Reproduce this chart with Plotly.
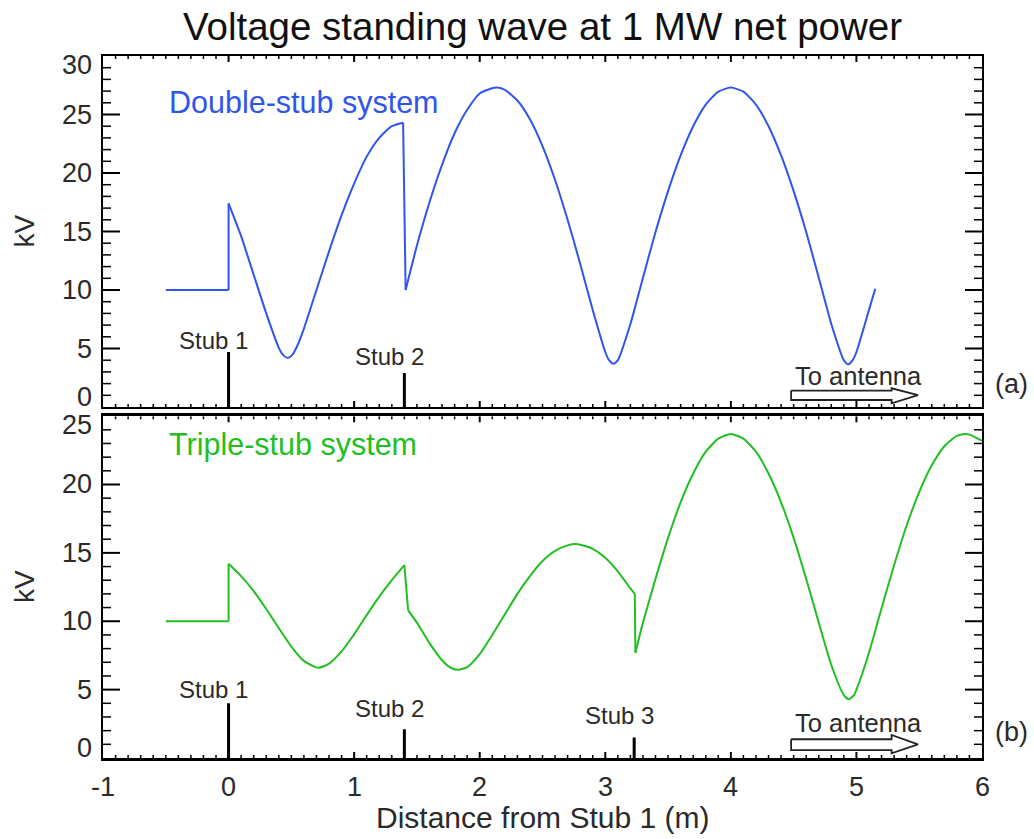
import plotly.graph_objects as go

FONT = "Liberation Sans, Arial, Helvetica, sans-serif"
BLUE = "#2f55ee"
GREEN = "#22bf22"
INK = "#2a2a2a"

# ---------------- Data: panel (a) double-stub system ----------------
a_seg1_x = [-0.5, 0.0]
a_seg1_y = [10.0, 10.0]
a_seg2_x = [0.0, 0.1, 0.2, 0.3, 0.4, 0.43, 0.47, 0.51, 0.55, 0.6, 0.7, 0.8, 0.9,
            1.0, 1.1, 1.2, 1.3, 1.39]
a_seg2_y = [17.4, 14.6, 11.3, 8.0, 5.05, 4.5, 4.2, 4.5, 5.3, 6.7, 10.0, 13.3, 16.4,
            19.1, 21.4, 23.0, 24.0, 24.3]
a_seg3_x = [1.41, 1.5, 1.6, 1.7, 1.8, 1.9, 2.0, 2.13, 2.2, 2.3, 2.4, 2.5, 2.6, 2.7,
            2.8, 2.9, 3.0, 3.03, 3.065, 3.1, 3.2, 3.3, 3.4, 3.5, 3.6, 3.7, 3.8, 3.9,
            4.0, 4.1, 4.2, 4.3, 4.4, 4.5, 4.6, 4.7, 4.8, 4.9, 4.935, 4.97, 5.0, 5.1, 5.15]
a_seg3_y = [10.0, 13.8, 17.5, 20.7, 23.4, 25.4, 26.8, 27.3, 27.1, 26.2, 24.6, 22.3, 19.4, 16.0,
            12.25, 8.3, 4.7, 4.0, 3.7, 4.0, 7.1, 11.05, 14.95, 18.45, 21.5, 24.0, 25.85, 26.95,
            27.3, 26.95, 25.85, 24.0, 21.5, 18.45, 14.95, 11.05, 7.1, 4.0, 3.65, 4.0, 4.7, 8.3, 10.1]
a_stub_x = [0.0, 1.4]
a_stub_h = [4.7, 2.9]
a_stub_labels = ["Stub 1", "Stub 2"]
a_stub_label_y = [5.7, 4.3]

# ---------------- Data: panel (b) triple-stub system ----------------
b_seg1_x = [-0.5, 0.0]
b_seg1_y = [10.0, 10.0]
b_seg2_x = [0.0, 0.1, 0.2, 0.3, 0.4, 0.5, 0.6, 0.715, 0.8, 0.9, 1.0, 1.1, 1.2, 1.3, 1.4]
b_seg2_y = [14.2, 13.3, 12.2, 10.9, 9.5, 8.15, 7.1, 6.6, 6.9, 7.8, 9.05, 10.45, 11.8, 13.0, 14.1]
b_seg3_x = [1.43, 1.5, 1.6, 1.7, 1.77, 1.83, 1.9, 2.0, 2.1, 2.2, 2.3, 2.4, 2.5, 2.6, 2.7,
            2.765, 2.8, 2.9, 3.0, 3.1, 3.2, 3.235]
b_seg3_y = [10.8, 9.9, 8.4, 7.15, 6.6, 6.45, 6.65, 7.6, 9.0, 10.5, 12.0, 13.3, 14.4, 15.15, 15.55,
            15.65, 15.6, 15.3, 14.65, 13.65, 12.4, 12.0]
b_seg4_x = [3.24, 3.3, 3.4, 3.5, 3.6, 3.7, 3.8, 3.9, 4.0, 4.1, 4.2, 4.3, 4.4, 4.5, 4.6, 4.7,
            4.8, 4.9, 4.94, 4.98, 5.0, 5.1, 5.2, 5.3, 5.4, 5.5, 5.6, 5.7, 5.8, 5.87, 5.9, 6.0]
b_seg4_y = [7.7, 9.9, 13.1, 16.1, 18.7, 20.8, 22.4, 23.35, 23.7, 23.35, 22.4, 20.8, 18.7, 16.1, 13.1, 9.9,
            6.8, 4.6, 4.3, 4.6, 5.0, 7.7, 10.95, 14.1, 17.0, 19.45, 21.4, 22.8, 23.55, 23.7, 23.65, 23.2]
b_stub_x = [0.0, 1.4, 3.23]
b_stub_h = [4.0, 2.1, 1.5]
b_stub_labels = ["Stub 1", "Stub 2", "Stub 3"]
b_stub_label_y = [5.0, 3.65, 3.1]

# "To antenna" hollow arrow outline (data units), per panel
arrow_x = [4.48, 5.28, 5.28, 5.49, 5.28, 5.28, 4.48, 4.48]
a_arrow_y = [1.40, 1.40, 1.60, 1.02, 0.32, 0.60, 0.60, 1.40]
b_arrow_y = [1.37, 1.37, 1.68, 1.00, 0.34, 0.58, 0.58, 1.37]

x_ticks = [-1, 0, 1, 2, 3, 4, 5, 6]
x_tick_text = ["-1", "0", "1", "2", "3", "4", "5", "6"]
a_y_ticks = [0, 5, 10, 15, 20, 25, 30]
b_y_ticks = [0, 5, 10, 15, 20, 25]
x_minor_step = 0.1
y_minor_step = 1

# figure geometry
W, H = 1034, 839
M_L, M_R, M_T, M_B = 103, 52, 56, 81
TOP_DOMAIN = [0.5, 1.0]
BOT_DOMAIN = [0.0, 0.487]
PLOT_W = W - M_L - M_R
PLOT_H = H - M_T - M_B

fig = go.Figure()


def add_curve(segs, color, xa, ya):
    for i, (sx, sy) in enumerate(segs):
        fig.add_trace(go.Scatter(x=sx, y=sy, mode="lines", xaxis=xa, yaxis=ya,
                                 line=dict(color=color, width=2, shape="spline", smoothing=0.6),
                                 hoverinfo="skip", showlegend=False))
        if i + 1 < len(segs):
            nx, ny = segs[i + 1]
            fig.add_trace(go.Scatter(x=[sx[-1], nx[0]], y=[sy[-1], ny[0]], mode="lines",
                                     xaxis=xa, yaxis=ya, line=dict(color=color, width=2),
                                     hoverinfo="skip", showlegend=False))


def add_stubs(sx, sh, labels, ly, xa, ya):
    for x, h, lab, yy in zip(sx, sh, labels, ly):
        fig.add_trace(go.Scatter(x=[x, x], y=[0, h], mode="lines", xaxis=xa, yaxis=ya,
                                 line=dict(color="black", width=3), hoverinfo="skip",
                                 showlegend=False))
        fig.add_annotation(x=x - 0.12, y=yy, xref=xa, yref=ya, text=lab, showarrow=False,
                           font=dict(family=FONT, size=24, color=INK),
                           xanchor="center", yanchor="middle")


def add_arrow(ay, xa, ya, ty):
    fig.add_trace(go.Scatter(x=arrow_x, y=ay, mode="lines", xaxis=xa, yaxis=ya,
                             fill="toself", fillcolor="white",
                             line=dict(color="#222222", width=1.8),
                             hoverinfo="skip", showlegend=False))
    fig.add_annotation(x=5.02, y=ty, xref=xa, yref=ya, text="To antenna", showarrow=False,
                       font=dict(family=FONT, size=25.5, color=INK),
                       xanchor="center", yanchor="middle")


def add_ylabels(ticks, ya):
    lo, hi = min(ticks), max(ticks)
    for v in ticks:
        shift = -9 if v == hi else (10 if v == lo else 0)
        fig.add_annotation(x=0, y=v, xref="paper", yref=ya, text=str(v), showarrow=False,
                           xanchor="right", yanchor="middle", xshift=-9, yshift=shift,
                           font=dict(family=FONT, size=27, color=INK))
    fig.add_annotation(x=0, y=(lo + hi) / 2, xref="paper", yref=ya, text="kV", showarrow=False,
                       textangle=-90, xanchor="center", yanchor="middle", xshift=-79,
                       font=dict(family=FONT, size=28, color=INK))


def seg_trace(xs, ys, width, xa, ya):
    fig.add_trace(go.Scatter(x=xs, y=ys, mode="lines", xaxis=xa, yaxis=ya,
                             line=dict(color="black", width=width),
                             hoverinfo="skip", showlegend=False))


def add_ticks(xa, ya, yticks, domain):
    xlo, xhi = x_ticks[0], x_ticks[-1]
    ylo, yhi = yticks[0], yticks[-1]
    uy = (yhi - ylo) / (PLOT_H * (domain[1] - domain[0]))       # data units per pixel (y)
    n = int(round((xhi - xlo) / x_minor_step))
    xs_all = [round(xlo + k * x_minor_step, 6) for k in range(1, n)]
    m = int(round((yhi - ylo) / y_minor_step))
    ys_all = [ylo + k * y_minor_step for k in range(1, m)]
    for major in (True, False):
        # vertical ticks on bottom and top edges
        xs = [v for v in xs_all if (abs(v - round(v)) < 1e-6) == major]
        ln, w = (6, 2) if major else (3, 1.5)
        px, py = [], []
        for v in xs:
            px += [v, v, None, v, v, None]
            py += [ylo, ylo + ln * uy, None, yhi, yhi - ln * uy, None]
        seg_trace(px, py, w, xa, ya)
        # horizontal ticks on left and right edges, as paper-referenced shapes
        ys = [v for v in ys_all if (v in yticks) == major]
        ln, w = (17, 2) if major else (8, 1.5)
        fx = ln / PLOT_W
        for v in ys:
            fy = domain[0] + (v - ylo) / (yhi - ylo) * (domain[1] - domain[0])
            for x0, x1 in ((0.0, fx), (1.0, 1.0 - fx)):
                fig.add_shape(type="line", xref="paper", yref="paper", x0=x0, x1=x1,
                              y0=fy, y1=fy, line=dict(color="black", width=w), layer="above")


# panel (a) on x2/y2 (top), panel (b) on x/y (bottom)
add_curve([(a_seg1_x, a_seg1_y), (a_seg2_x, a_seg2_y), (a_seg3_x, a_seg3_y)], BLUE, "x2", "y2")
add_stubs(a_stub_x, a_stub_h, a_stub_labels, a_stub_label_y, "x2", "y2")
add_arrow(a_arrow_y, "x2", "y2", 2.65)

add_curve([(b_seg1_x, b_seg1_y), (b_seg2_x, b_seg2_y), (b_seg3_x, b_seg3_y), (b_seg4_x, b_seg4_y)],
          GREEN, "x", "y")
add_stubs(b_stub_x, b_stub_h, b_stub_labels, b_stub_label_y, "x", "y")
add_arrow(b_arrow_y, "x", "y", 2.55)

add_ticks("x2", "y2", a_y_ticks, TOP_DOMAIN)
add_ticks("x", "y", b_y_ticks, BOT_DOMAIN)

add_ylabels(a_y_ticks, "y2")
add_ylabels(b_y_ticks, "y")

for v, t in zip(x_ticks, x_tick_text):
    fig.add_annotation(x=v, y=0, xref="x", yref="paper", text=t, showarrow=False,
                       xanchor="center", yanchor="middle", yshift=-29,
                       font=dict(family=FONT, size=27, color=INK))
fig.add_annotation(x=0.5, y=0, xref="paper", yref="paper", text="Distance from Stub 1 (m)",
                   showarrow=False, xanchor="center", yanchor="middle", yshift=-59,
                   font=dict(family=FONT, size=30, color=INK))

fig.add_annotation(x=-0.49, y=26.0, xref="x2", yref="y2", text="Double-stub system",
                   showarrow=False, xanchor="left", yanchor="middle",
                   font=dict(family=FONT, size=30.5, color=BLUE))
fig.add_annotation(x=-0.49, y=22.9, xref="x", yref="y", text="Triple-stub system",
                   showarrow=False, xanchor="left", yanchor="middle",
                   font=dict(family=FONT, size=30.5, color=GREEN))
fig.add_annotation(x=1.033, y=2.0, xref="paper", yref="y2", text="(a)", showarrow=False,
                   xanchor="center", yanchor="middle", font=dict(family=FONT, size=27, color=INK))
fig.add_annotation(x=1.033, y=1.9, xref="paper", yref="y", text="(b)", showarrow=False,
                   xanchor="center", yanchor="middle", font=dict(family=FONT, size=27, color=INK))

xcommon = dict(range=[x_ticks[0], x_ticks[-1]], showline=True, linecolor="black", mirror=True,
               showgrid=False, zeroline=False, showticklabels=False, ticks="")
ycommon = dict(showline=True, linecolor="black", linewidth=2, mirror=True,
               showgrid=False, zeroline=False, showticklabels=False, ticks="")

fig.update_layout(
    width=W, height=H,
    margin=dict(l=M_L, r=M_R, t=M_T, b=M_B),
    paper_bgcolor="white", plot_bgcolor="white",
    showlegend=False,
    title=dict(text="Voltage standing wave at 1 MW net power", x=0.5, xref="paper",
               y=1 - 27 / H, yref="container", xanchor="center", yanchor="middle",
               font=dict(family=FONT, size=38.5, color="#111111")),
    xaxis=dict(domain=[0, 1], anchor="y", linewidth=3, **xcommon),
    xaxis2=dict(domain=[0, 1], anchor="y2", matches="x", linewidth=2, **xcommon),
    yaxis=dict(domain=BOT_DOMAIN, range=[b_y_ticks[0], b_y_ticks[-1]], **ycommon),
    yaxis2=dict(domain=TOP_DOMAIN, range=[a_y_ticks[0], a_y_ticks[-1]], **ycommon),
)

fig.write_html("out.html")
